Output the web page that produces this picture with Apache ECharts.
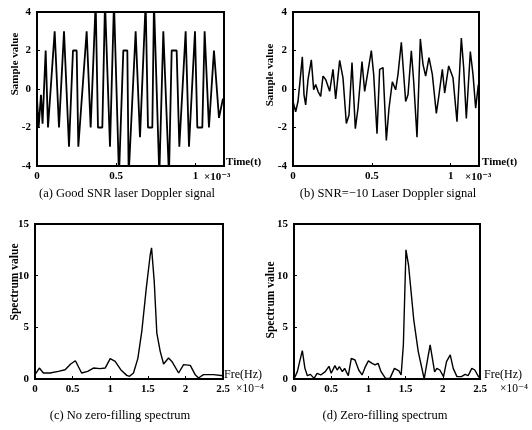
<!DOCTYPE html>
<html>
<head>
<meta charset="utf-8">
<script src="https://cdn.jsdelivr.net/npm/echarts/dist/echarts.min.js"></script>
<style>html,body{margin:0;padding:0;background:#fff;}#c{width:532px;height:430px;}</style>
</head>
<body>
<div id="c"></div>
<script>
// (a) Good SNR signal: time (x10^-3 s) and sample values
const timeA = [0, 0.0105, 0.025, 0.035, 0.0547, 0.0694, 0.1115, 0.1388, 0.1704, 0.2019, 0.2271, 0.2503, 0.2608, 0.3134, 0.3386, 0.3702, 0.3849, 0.4122, 0.4291, 0.4606, 0.4858, 0.5174, 0.5447, 0.5700, 0.5784, 0.6225, 0.6499, 0.6856, 0.7003, 0.7277, 0.7382, 0.7718, 0.7971, 0.8328, 0.8497, 0.8812, 0.8981, 0.9380, 0.9590, 0.9969, 1.0116, 1.0431, 1.0578, 1.0851, 1.1167, 1.1483, 1.1735];
const valueA = [-0.5, -2, -0.3, -1.8, 2, -2, 3, -2, 3, -3, 2, 2, -3, 3, -2, 4.5, -2, -2, 4.5, -3, 4.5, -4.5, 2, 2, -4.5, 3, -2.5, 4.5, -2, -2, 4.5, -4.5, 3, -4.5, 2, 2, -3, 3, -3, 3, -2, -2, 3, -2, 2, -1.5, -0.5];

// (b) SNR=-10 signal
const timeB = [0, 0.0169, 0.0317, 0.0423, 0.0592, 0.0698, 0.0804, 0.0952, 0.1163, 0.1311, 0.1438, 0.1586, 0.1755, 0.1903, 0.2072, 0.2220, 0.2326, 0.2538, 0.2707, 0.2961, 0.3172, 0.3384, 0.3553, 0.3743, 0.3955, 0.4124, 0.4377, 0.4547, 0.4758, 0.4970, 0.5118, 0.5329, 0.5498, 0.5710, 0.5921, 0.6090, 0.6302, 0.6513, 0.6661, 0.6873, 0.7148, 0.7296, 0.7507, 0.7655, 0.7867, 0.8078, 0.8247, 0.8416, 0.8628, 0.8839, 0.9093, 0.9262, 0.9474, 0.9622, 0.9876, 1.0151, 1.0404, 1.0679, 1.0827, 1.0996, 1.1250, 1.1419, 1.1588, 1.1757];
const valueB = [-0.65, -1.18, -0.65, 0.23, 1.67, -0.30, -0.83, 0.49, 1.51, -0.04, 0.23, -0.12, -0.39, 0.67, 0.49, 0.14, -0.12, 1.02, -0.51, 1.49, 0.58, -1.79, -1.35, 1.37, -2.06, -1.00, 1.42, -0.12, 0.93, 1.99, 0.76, -2.32, 1.02, 1.11, -2.67, -1.00, 0.37, -0.04, 0.76, 2.43, -0.65, -0.30, 1.99, 0.40, -2.50, 2.60, 1.28, 0.67, 1.63, 0.76, -1.27, -0.30, 1.02, -0.21, 1.20, 0.58, -1.70, 2.65, 1.11, -1.53, 1.95, 0.76, -1.00, 0.23];

// (c) No zero-filling spectrum: frequency (x10^4 Hz)
const freqC = [0, 0.058, 0.111, 0.2, 0.31, 0.40, 0.475, 0.537, 0.62, 0.70, 0.777, 0.866, 0.933, 1.0, 1.066, 1.14, 1.22, 1.257, 1.31, 1.368, 1.42, 1.48, 1.532, 1.55, 1.585, 1.62, 1.665, 1.71, 1.776, 1.82, 1.91, 1.976, 2.065, 2.13, 2.175, 2.24, 2.375, 2.5];
const specC = [0.42, 1.06, 0.58, 0.58, 0.74, 0.9, 1.45, 1.77, 0.58, 0.74, 1.06, 1.0, 1.06, 1.97, 1.71, 0.9, 0.35, 0.26, 0.58, 2.0, 4.6, 8.8, 12.0, 12.7, 9.5, 4.45, 2.68, 1.45, 2.03, 1.7, 0.58, 1.39, 1.32, 0.42, 0.1, 0.42, 0.42, 0.32];

// (d) Zero-filling spectrum
const freqD = [0, 0.045, 0.076, 0.112, 0.147, 0.18, 0.22, 0.27, 0.31, 0.36, 0.42, 0.47, 0.50, 0.55, 0.58, 0.61, 0.65, 0.68, 0.73, 0.77, 0.82, 0.87, 0.915, 0.96, 1.0, 1.05, 1.09, 1.13, 1.17, 1.23, 1.29, 1.35, 1.41, 1.44, 1.47, 1.505, 1.54, 1.61, 1.67, 1.75, 1.79, 1.83, 1.86, 1.89, 1.92, 1.96, 2.01, 2.05, 2.10, 2.14, 2.19, 2.25, 2.30, 2.34, 2.39, 2.43, 2.48, 2.5];
const specD = [0, 0.71, 1.68, 2.75, 1.03, 0.32, 0.45, 0.06, 0.55, 0.39, 0.71, 1.23, 0.55, 1.29, 0.87, 1.2, 0.71, 1.03, 0.32, 2.0, 1.84, 0.87, 0.39, 1.2, 1.75, 1.52, 1.36, 1.52, 0.71, 0.06, 0.06, 1.03, 0.78, 0.39, 3.3, 12.5, 11.0, 5.7, 2.65, 0, 1.68, 3.3, 2.0, 0.7, 1.03, 0.87, 0.23, 1.68, 2.33, 1.03, 0.23, 0.23, 0.45, 0.32, 1.03, 0.87, 0.23, 0.13];

const signalTicks = [-4, -2, 0, 2, 4];
const spectrumTicks = [0, 5, 10, 15];

const FONT = '"Liberation Serif", "DejaVu Serif", serif';
const pairs = (xs, ys) => xs.map((x, i) => [x, ys[i]]);

function xAx(gi, max, interval) {
  return {
    type: 'value', gridIndex: gi, min: 0, max: max, interval: interval,
    axisLine: {show: true, onZero: false, lineStyle: {color: '#000', width: 2}},
    axisTick: {show: true, inside: true, length: 3, lineStyle: {color: '#000'}},
    splitLine: {show: false},
    axisLabel: {color: '#000', fontFamily: FONT, fontWeight: 'bold', fontSize: 11, margin: 5, showMaxLabel: max % interval === 0}
  };
}
function yAx(gi, min, max, interval) {
  return {
    type: 'value', gridIndex: gi, min: min, max: max, interval: interval,
    axisLine: {show: true, onZero: false, lineStyle: {color: '#000', width: 2}},
    axisTick: {show: true, inside: true, length: 3, lineStyle: {color: '#000'}},
    splitLine: {show: false},
    axisLabel: {color: '#000', fontFamily: FONT, fontWeight: 'bold', fontSize: 11, margin: 6}
  };
}
function txt(x, y, s, opt) {
  return {
    type: 'text', x: x, y: y,
    style: Object.assign({text: s, fill: '#000', font: 'bold 11px ' + FONT, textAlign: 'left', textVerticalAlign: 'middle'}, opt || {})
  };
}
function rtxt(x, y, s, size) {
  return {
    type: 'text', x: x, y: y, rotation: Math.PI / 2,
    style: {text: s, fill: '#000', font: 'bold ' + size + 'px ' + FONT, textAlign: 'center', textVerticalAlign: 'middle'}
  };
}

const gridStyle = {show: true, borderColor: '#000', borderWidth: 2, backgroundColor: 'transparent'};
const capFont = '12.5px ' + FONT;

const option = {
  backgroundColor: '#fff',
  animation: false,
  grid: [
    Object.assign({left: 37, top: 12, width: 187, height: 154}, gridStyle),
    Object.assign({left: 293, top: 12, width: 186, height: 154}, gridStyle),
    Object.assign({left: 35, top: 224, width: 188, height: 155}, gridStyle),
    Object.assign({left: 294, top: 224, width: 186, height: 155}, gridStyle)
  ],
  xAxis: [xAx(0, 1.18, 0.5), xAx(1, 1.18, 0.5), xAx(2, 2.5, 0.5), xAx(3, 2.5, 0.5)],
  yAxis: [
    yAx(0, signalTicks[0], signalTicks[signalTicks.length - 1], 2),
    yAx(1, signalTicks[0], signalTicks[signalTicks.length - 1], 2),
    yAx(2, spectrumTicks[0], spectrumTicks[spectrumTicks.length - 1], 5),
    yAx(3, spectrumTicks[0], spectrumTicks[spectrumTicks.length - 1], 5)
  ],
  series: [
    {type: 'line', xAxisIndex: 0, yAxisIndex: 0, data: pairs(timeA, valueA), showSymbol: false, clip: true, lineStyle: {color: '#000', width: 1.8}},
    {type: 'line', xAxisIndex: 1, yAxisIndex: 1, data: pairs(timeB, valueB), showSymbol: false, clip: true, lineStyle: {color: '#000', width: 1.5}},
    {type: 'line', xAxisIndex: 2, yAxisIndex: 2, data: pairs(freqC, specC), showSymbol: false, clip: true, lineStyle: {color: '#000', width: 1.4}},
    {type: 'line', xAxisIndex: 3, yAxisIndex: 3, data: pairs(freqD, specD), showSymbol: false, clip: true, lineStyle: {color: '#000', width: 1.4}}
  ],
  graphic: [
    rtxt(15, 64, 'Sample value', 11),
    rtxt(270, 75, 'Sample value', 11),
    rtxt(15, 282, 'Spectrum value', 11.5),
    rtxt(271, 300, 'Spectrum value', 11.5),
    txt(226, 162, 'Time(t)'),
    txt(482, 162, 'Time(t)'),
    txt(224, 375, 'Fre(Hz)', {font: '12px ' + FONT}),
    txt(484, 375, 'Fre(Hz)', {font: '12px ' + FONT}),
    txt(204, 177, '×10⁻³'),
    txt(465, 177, '×10⁻³'),
    txt(236, 389, '×10⁻⁴', {font: '11.5px ' + FONT}),
    txt(500, 389, '×10⁻⁴', {font: '11.5px ' + FONT}),
    txt(127, 194, '(a) Good SNR laser Doppler signal', {font: capFont, textAlign: 'center'}),
    txt(388, 194, '(b) SNR=−10 Laser Doppler signal', {font: capFont, textAlign: 'center'}),
    txt(120, 416, '(c) No zero-filling spectrum', {font: capFont, textAlign: 'center'}),
    txt(385, 416, '(d) Zero-filling spectrum', {font: capFont, textAlign: 'center'})
  ]
};
const chart = echarts.init(document.getElementById('c'), null, {renderer: 'canvas'});
chart.setOption(option);
</script>
</body>
</html>
